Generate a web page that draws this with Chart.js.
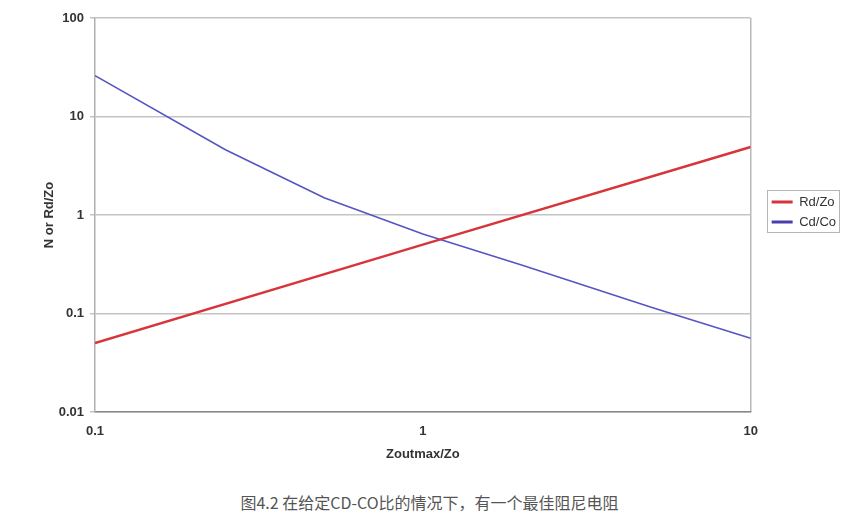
<!DOCTYPE html>
<html>
<head>
<meta charset="utf-8">
<script src="https://cdn.jsdelivr.net/npm/chart.js@4/dist/chart.umd.min.js"></script>
<style>
  body { margin: 0; background: #fff; }
  #wrap { position: relative; width: 859px; height: 525px; }
  #caption {
    position: absolute; left: 0; top: 490px; width: 859px; text-align: center;
    font: 16px "Noto Sans CJK SC", "Noto Sans", sans-serif; color: #555;
  }
</style>
</head>
<body>
<div id="wrap">
  <canvas id="chart" width="859" height="472"></canvas>
  <div id="caption">图4.2 在给定CD-CO比的情况下，有一个最佳阻尼电阻</div>
</div>
<script>
// x values (Zoutmax/Zo) and the two curves
const rdX = [0.1, 1, 10];
const rdZo = [0.05, 0.5, 4.9];

const cdX = [0.1, 0.25, 0.5, 1, 2, 5, 10];
const cdCo = [26, 4.6, 1.5, 0.64, 0.31, 0.115, 0.056];

// tick labels
const xTicks = [0.1, 1, 10];
const yTicks = [0.01, 0.1, 1, 10, 100];

const seriesNames = ['Rd/Zo', 'Cd/Co'];

const toPoints = (xs, ys) => xs.map((x, i) => ({ x: x, y: ys[i] }));

// nudge the legend away from the plot and draw a box round it
// (hit boxes follow legend.left/top on their own when the legend updates)
const legendBox = {
  id: 'legendBox',
  afterLayout(chart) {
    const lg = chart.legend;
    const dx = 14, dy = -3;
    lg.left += dx; lg.right += dx;
    lg.top += dy; lg.bottom += dy;
  },
  afterDraw(chart) {
    const boxes = chart.legend.legendHitBoxes;
    if (!boxes || !boxes.length) return;
    let l = Infinity, t = Infinity, r = -Infinity, b = -Infinity;
    boxes.forEach((h) => {
      l = Math.min(l, h.left); t = Math.min(t, h.top);
      r = Math.max(r, h.left + h.width); b = Math.max(b, h.top + h.height);
    });
    const ctx = chart.ctx;
    ctx.save();
    ctx.strokeStyle = '#b5b5b5';
    ctx.lineWidth = 1;
    ctx.strokeRect(Math.round(l - 5) + 0.5, Math.round(t - 6) + 0.5, Math.round(r - l + 8), Math.round(b - t + 9));
    ctx.restore();
  }
};

const ctx = document.getElementById('chart').getContext('2d');

const myChart = new Chart(ctx, {
  type: 'scatter',
  data: {
    datasets: [
      {
        label: seriesNames[0],
        data: toPoints(rdX, rdZo),
        showLine: true,
        borderColor: '#d8353a',
        backgroundColor: '#d8353a',
        borderWidth: 2.5,
        pointRadius: 0
      },
      {
        label: seriesNames[1],
        data: toPoints(cdX, cdCo),
        showLine: true,
        borderColor: '#5555c4',
        backgroundColor: '#4a3fb0',
        borderWidth: 1.6,
        pointRadius: 0
      }
    ]
  },
  options: {
    responsive: false,
    animation: false,
    layout: { padding: { left: 42, right: 27, top: 18, bottom: 0 } },
    plugins: {
      tooltip: { enabled: false },
      legend: {
        position: 'right',
        fullSize: false,
        labels: {
          boxWidth: 21,
          boxHeight: 3,
          padding: 7,
          color: '#333',
          font: { family: 'Liberation Sans, Arial', size: 13 },
          generateLabels(chart) {
            return Chart.defaults.plugins.legend.labels.generateLabels(chart)
              .map((item) => Object.assign(item, { lineWidth: 0 }));
          }
        }
      }
    },
    scales: {
      x: {
        type: 'logarithmic',
        min: 0.1,
        max: 10,
        afterBuildTicks(scale) {
          scale.ticks = xTicks.map((v) => ({ value: v }));
        },
        afterFit(scale) { scale.height = 60; },
        ticks: {
          color: '#333',
          padding: 12,
          maxRotation: 0,
          autoSkip: false,
          font: { family: 'Liberation Sans, Arial', size: 13, weight: 'bold' },
          callback: (v) => String(v)
        },
        grid: {
          drawTicks: false,
          lineWidth: 1.5,
          color: (c) => (c.tick && c.tick.value === 10 ? '#b8b8b8' : 'rgba(0,0,0,0)')
        },
        border: { display: true, color: '#8a8a8a', width: 1.5 },
        title: {
          display: true,
          text: 'Zoutmax/Zo',
          color: '#333',
          padding: { top: 4, bottom: 10 },
          font: { family: 'Liberation Sans, Arial', size: 13, weight: 'bold' }
        }
      },
      y: {
        type: 'logarithmic',
        min: 0.01,
        max: 100,
        afterBuildTicks(scale) {
          scale.ticks = yTicks.map((v) => ({ value: v }));
        },
        afterFit(scale) { scale.width = 53; },
        ticks: {
          color: '#333',
          padding: 6,
          autoSkip: false,
          font: { family: 'Liberation Sans, Arial', size: 13, weight: 'bold' },
          callback: (v) => String(v)
        },
        grid: {
          color: '#c4c4c4',
          lineWidth: 1.5,
          tickLength: 5
        },
        border: { display: true, color: '#b0b0b0', width: 1.5 },
        title: {
          display: true,
          text: 'N or Rd/Zo',
          color: '#333',
          padding: 0,
          font: { family: 'Liberation Sans, Arial', size: 13, weight: 'bold' }
        }
      }
    }
  },
  plugins: [legendBox]
});
</script>
</body>
</html>
